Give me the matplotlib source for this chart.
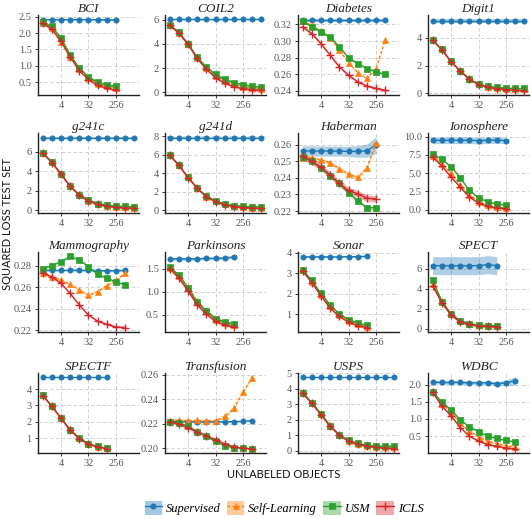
# Small multiples: squared loss on test set vs number of unlabeled objects

import numpy as np
import matplotlib.pyplot as plt
from matplotlib.patches import Patch
from matplotlib.lines import Line2D
from matplotlib.ticker import FixedLocator, FormatStrFormatter, NullLocator

# Data
datasets = ['BCI', 'COIL2', 'Diabetes', 'Digit1', 'g241c', 'g241d', 'Haberman', 'Ionosphere',
            'Mammography', 'Parkinsons', 'Sonar', 'SPECT', 'SPECTF', 'Transfusion', 'USPS', 'WDBC']
classifiers = ['Supervised', 'Self-Learning', 'USM', 'ICLS']

supervised = [
    [2.41, 2.41, 2.41, 2.41, 2.41, 2.41, 2.41, 2.40, 2.40],
    [6.05, 6.05, 6.05, 6.05, 6.05, 6.05, 6.05, 6.05, 6.05, 6.05, 6.05],
    [0.325, 0.325, 0.325, 0.325, 0.325, 0.325, 0.325, 0.325, 0.325, 0.325],
    [5.25, 5.25, 5.25, 5.25, 5.25, 5.25, 5.25, 5.25, 5.25, 5.25, 5.25],
    [7.45, 7.45, 7.45, 7.45, 7.45, 7.45, 7.45, 7.45, 7.45, 7.45, 7.45],
    [7.85, 7.85, 7.85, 7.85, 7.85, 7.85, 7.85, 7.85, 7.85, 7.85, 7.85],
    [0.2562, 0.2562, 0.2561, 0.2561, 0.2561, 0.2559, 0.2559, 0.2563, 0.2598],
    [9.50, 9.50, 9.50, 9.50, 9.50, 9.45, 9.50, 9.55, 9.45],
    [0.2756, 0.2755, 0.2755, 0.2756, 0.2755, 0.2755, 0.2753, 0.2752, 0.2752, 0.2755],
    [1.71, 1.71, 1.71, 1.71, 1.72, 1.72, 1.73, 1.75],
    [3.80, 3.80, 3.80, 3.80, 3.80, 3.81, 3.81, 3.83],
    [6.30, 6.30, 6.30, 6.30, 6.30, 6.30, 6.40, 6.30],
    [4.72, 4.72, 4.72, 4.72, 4.72, 4.72, 4.72, 4.72],
    [0.2215, 0.2215, 0.2214, 0.2213, 0.2213, 0.2214, 0.2215, 0.2216, 0.2218, 0.2225],
    [4.72, 4.72, 4.72, 4.72, 4.72, 4.72, 4.72, 4.72, 4.72, 4.72, 4.72],
    [2.08, 2.07, 2.07, 2.07, 2.06, 2.06, 2.06, 2.03, 2.06, 2.12],
]
self_learning = [
    [2.32, 2.15, 1.72, 1.28, 0.90, 0.62, 0.45, 0.38, 0.32],
    [5.58, 4.93, 4.00, 2.85, 2.00, 1.35, 0.95, 0.65, 0.45, 0.35, 0.30],
    [0.324, 0.319, 0.312, 0.304, 0.289, 0.274, 0.262, 0.255, 0.267, 0.301],
    [3.85, 3.18, 2.30, 1.62, 1.02, 0.66, 0.48, 0.38, 0.33, 0.30, 0.28],
    [5.88, 4.93, 3.72, 2.47, 1.58, 1.00, 0.66, 0.48, 0.38, 0.32, 0.28],
    [6.00, 4.88, 3.58, 2.40, 1.50, 0.98, 0.66, 0.48, 0.38, 0.32, 0.28],
    [0.2521, 0.2521, 0.2507, 0.2492, 0.2455, 0.2422, 0.2402, 0.2460, 0.2610],
    [7.40, 6.30, 5.00, 3.40, 2.00, 1.10, 0.60, 0.35, 0.25],
    [0.2729, 0.2697, 0.2666, 0.2626, 0.2573, 0.2527, 0.2558, 0.2614, 0.2666, 0.2729],
    [1.52, 1.35, 1.10, 0.80, 0.58, 0.40, 0.32, 0.28],
    [3.15, 2.60, 1.96, 1.40, 0.97, 0.70, 0.52, 0.40],
    [4.50, 2.80, 1.50, 0.80, 0.50, 0.35, 0.30, 0.25],
    [3.63, 2.97, 2.22, 1.50, 0.98, 0.64, 0.48, 0.37],
    [0.2225, 0.2228, 0.2225, 0.2226, 0.2224, 0.2225, 0.2258, 0.2325, 0.2458, 0.2575],
    [3.72, 3.08, 2.35, 1.60, 1.03, 0.65, 0.45, 0.33, 0.28, 0.25, 0.22],
    [1.80, 1.45, 1.20, 0.88, 0.65, 0.48, 0.35, 0.28, 0.22, 0.18],
]
usm = [
    [2.33, 2.20, 1.85, 1.33, 0.93, 0.66, 0.50, 0.42, 0.38],
    [5.60, 4.97, 4.03, 2.90, 2.10, 1.48, 1.07, 0.80, 0.62, 0.51, 0.40],
    [0.324, 0.317, 0.311, 0.305, 0.293, 0.280, 0.273, 0.267, 0.263, 0.260],
    [3.83, 3.17, 2.30, 1.63, 1.02, 0.66, 0.49, 0.41, 0.37, 0.34, 0.34],
    [5.90, 4.95, 3.73, 2.49, 1.61, 1.04, 0.70, 0.54, 0.44, 0.40, 0.37],
    [6.00, 4.90, 3.60, 2.42, 1.53, 1.02, 0.70, 0.53, 0.45, 0.40, 0.40],
    [0.2525, 0.2500, 0.2459, 0.2413, 0.2366, 0.2310, 0.2262, 0.2220, 0.2220],
    [7.60, 6.90, 5.90, 4.40, 2.65, 1.63, 1.10, 0.75, 0.66],
    [0.2769, 0.2800, 0.2837, 0.2884, 0.2853, 0.2790, 0.2719, 0.2682, 0.2650, 0.2620],
    [1.53, 1.36, 1.08, 0.77, 0.59, 0.42, 0.35, 0.31],
    [3.18, 2.65, 2.02, 1.46, 1.03, 0.75, 0.59, 0.47],
    [4.90, 2.70, 1.44, 0.80, 0.50, 0.38, 0.32, 0.30],
    [3.63, 2.97, 2.23, 1.52, 1.00, 0.65, 0.49, 0.38],
    [0.2215, 0.2205, 0.2180, 0.2135, 0.2095, 0.2055, 0.2020, 0.2005, 0.2000, 0.1995],
    [3.75, 3.10, 2.38, 1.62, 1.05, 0.67, 0.48, 0.36, 0.32, 0.30, 0.30],
    [1.80, 1.50, 1.27, 0.98, 0.77, 0.63, 0.50, 0.43, 0.37, 0.33],
]
icls = [
    [2.30, 2.12, 1.75, 1.27, 0.85, 0.58, 0.40, 0.32, 0.25],
    [5.55, 4.90, 3.98, 2.80, 1.90, 1.20, 0.75, 0.45, 0.30, 0.20, 0.15],
    [0.317, 0.309, 0.297, 0.283, 0.269, 0.259, 0.251, 0.246, 0.243, 0.241],
    [3.85, 3.15, 2.28, 1.60, 1.00, 0.62, 0.42, 0.32, 0.25, 0.20, 0.18],
    [5.85, 4.90, 3.70, 2.45, 1.55, 0.95, 0.60, 0.42, 0.30, 0.24, 0.20],
    [5.98, 4.85, 3.55, 2.38, 1.48, 0.95, 0.62, 0.42, 0.32, 0.25, 0.22],
    [0.2530, 0.2500, 0.2463, 0.2418, 0.2366, 0.2324, 0.2304, 0.2277, 0.2273],
    [7.20, 6.00, 4.50, 3.10, 1.75, 0.90, 0.45, 0.25, 0.15],
    [0.2729, 0.2697, 0.2635, 0.2542, 0.2433, 0.2340, 0.2284, 0.2253, 0.2231, 0.2225],
    [1.50, 1.30, 1.02, 0.72, 0.52, 0.36, 0.28, 0.24],
    [3.10, 2.55, 1.90, 1.30, 0.90, 0.62, 0.45, 0.35],
    [4.30, 2.60, 1.40, 0.70, 0.45, 0.30, 0.25, 0.20],
    [3.60, 2.95, 2.20, 1.48, 0.96, 0.62, 0.46, 0.35],
    [0.2215, 0.2195, 0.2165, 0.2130, 0.2100, 0.2070, 0.2035, 0.2010, 0.2000, 0.1995],
    [3.70, 3.05, 2.33, 1.58, 1.00, 0.62, 0.42, 0.30, 0.22, 0.18, 0.15],
    [1.78, 1.38, 1.10, 0.75, 0.50, 0.35, 0.25, 0.20, 0.15, 0.13],
]

# half widths of the shaded bands
band_supervised = [0.03, 0.05, 0.002, 0.15, 0.1, 0.1,
                   [0.003, 0.003, 0.003, 0.003, 0.003, 0.003, 0.0035, 0.004, 0.005],
                   0.45, 0.0008, 0.03, 0.03, 0.9, 0.04, 0.0006, 0.05,
                   [0.05, 0.05, 0.05, 0.05, 0.05, 0.05, 0.05, 0.06, 0.08, 0.12]]
band_self_learning = [0.03, 0.08, 0.001, 0.05, 0.1, 0.1, 0.001, 0.1, 0.0008, 0.03, 0.03,
                      [0.4, 0.2, 0.1, 0.06, 0.05, 0.05, 0.05, 0.05], 0.04, 0.0008, 0.05, 0.02]
band_usm = [0.03, 0.08, 0.001, 0.05, 0.1, 0.1, 0.001, 0.1, 0.0008, 0.03, 0.03,
            0.15, 0.04, 0.0005, 0.05, 0.02]
band_icls = [0.03, 0.08, 0.0015, 0.05, 0.1, 0.1, 0.002, 0.1, 0.0008, 0.03, 0.03,
             0.15, 0.04, 0.0005, 0.05, 0.02]

y_ticks = [[0.5, 1.0, 1.5, 2.0, 2.5], [0, 2, 4, 6], [0.24, 0.26, 0.28, 0.30, 0.32], [0, 2, 4],
           [0, 2, 4, 6, 8], [0, 2, 4, 6, 8], [0.22, 0.23, 0.24, 0.25, 0.26], [0.0, 2.5, 5.0, 7.5, 10.0],
           [0.22, 0.24, 0.26, 0.28], [0.5, 1.0, 1.5], [1, 2, 3, 4], [0, 2, 4, 6],
           [1, 2, 3, 4, 5], [0.20, 0.22, 0.24, 0.26], [0, 1, 2, 3, 4, 5], [0.5, 1.0, 1.5, 2.0]]
y_fmt = ['%.1f', '%d', '%.2f', '%d', '%d', '%d', '%.2f', '%.1f',
         '%.2f', '%.1f', '%d', '%d', '%d', '%.2f', '%d', '%.1f']
x_ticks = [4, 32, 256]

# Style
colors = ['#1f77b4', '#ff7f0e', '#2ca02c', '#d62728']
markers = ['o', '^', 's', '+']
msizes = [3.8, 4.2, 3.8, 6.0]
lstyles = ['-', (0, (2, 1.5)), '-', '-']
serif = 'Liberation Serif'
sans = 'Lato'

fig = plt.figure(figsize=(5.31, 5.19), dpi=100)
W, H = 531.0, 519.0
col_left = [38, 165, 298, 428]
col_w = 101
row_top = [15, 133, 252, 373]
row_h = 80

series = [supervised, self_learning, usm, icls]
bands = [band_supervised, band_self_learning, band_usm, band_icls]

for i, name in enumerate(datasets):
    r, c = divmod(i, 4)
    ax = fig.add_axes([col_left[c] / W, 1 - (row_top[r] + row_h) / H, col_w / W, row_h / H])
    lo_all, hi_all = [], []
    for k in range(4):
        y = np.array(series[k][i])
        x = 2.0 ** np.arange(len(y))
        b = np.broadcast_to(np.array(bands[k][i], dtype=float), y.shape)
        ax.fill_between(x, y - b, y + b, color=colors[k], alpha=0.35, lw=0, zorder=1)
        ax.plot(x, y, color=colors[k], ls=lstyles[k], lw=1.0, marker=markers[k],
                ms=msizes[k], mew=1.0 if k == 3 else 0.5, zorder=3 + k * 0.1)
        lo_all.append((y - b).min())
        hi_all.append((y + b).max())
    lo, hi = min(lo_all), max(hi_all)
    pad = (hi - lo) * 0.05
    ax.set_ylim(lo - pad, hi + pad)
    ax.set_xscale('log', base=2)
    ax.set_xlim(2 ** -0.5, 2 ** 10.5)
    ax.xaxis.set_major_locator(FixedLocator(x_ticks))
    ax.xaxis.set_minor_locator(NullLocator())
    ax.set_xticklabels([str(t) for t in x_ticks])
    ax.yaxis.set_major_locator(FixedLocator(y_ticks[i]))
    ax.yaxis.set_major_formatter(FormatStrFormatter(y_fmt[i]))
    ax.grid(True, ls=(0, (4, 3)), color='#c8c8c8', lw=0.6, zorder=0)
    ax.set_axisbelow(True)
    for s in ['top', 'right']:
        ax.spines[s].set_visible(False)
    for s in ['left', 'bottom']:
        ax.spines[s].set_color('#222222')
        ax.spines[s].set_linewidth(1.0)
    ax.tick_params(length=2.5, width=0.7, color='#333333', labelsize=7.5,
                   labelcolor='#555555', pad=2)
    for lab in ax.get_xticklabels() + ax.get_yticklabels():
        lab.set_fontfamily(serif)
    ax.set_title(name, fontsize=9.5, fontstyle='italic', family=serif, pad=2, color='#222222')

fig.text(284 / W, 1 - 475 / H, 'UNLABELED OBJECTS', ha='center', va='center',
         family=sans, fontsize=8, color='#111111')
fig.text(8 / W, 1 - 224 / H, 'SQUARED LOSS TEST SET', ha='center', va='center',
         rotation=90, family=sans, fontsize=8, color='#111111')

handles = []
for k in range(4):
    patch = Patch(facecolor=colors[k], alpha=0.4, edgecolor='none')
    line = Line2D([], [], color=colors[k], ls=lstyles[k], lw=1.0, marker=markers[k],
                  ms=msizes[k], mew=1.0 if k == 3 else 0.5)
    handles.append((patch, line))
fig.legend(handles, classifiers, loc='center', bbox_to_anchor=(284 / W, 1 - 508 / H), ncol=4,
           frameon=False, prop={'family': serif, 'style': 'italic', 'size': 9},
           handlelength=1.4, handleheight=1.4, handletextpad=0.3, columnspacing=0.5)

plt.savefig('out.png', dpi=100)
